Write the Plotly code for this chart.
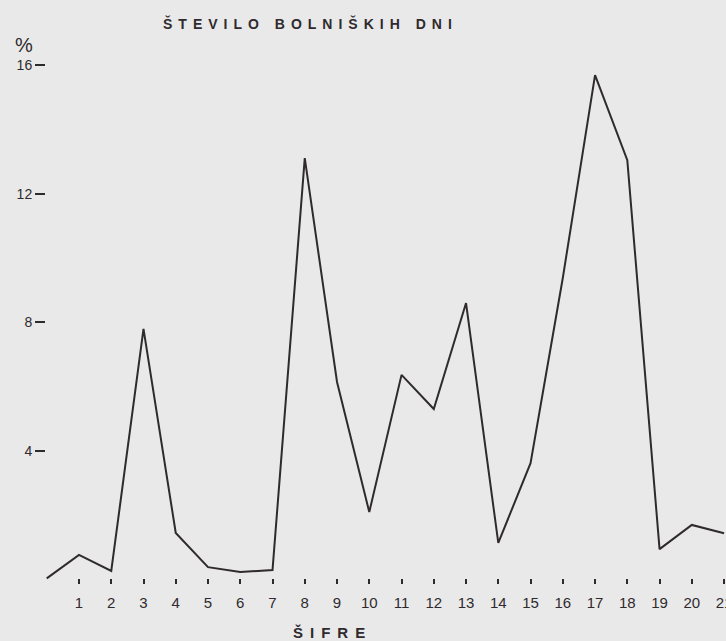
import plotly.graph_objects as go

# Data
positions = list(range(0, 22))
values = [0.05, 0.78, 0.28, 7.8, 1.46, 0.40, 0.25, 0.31, 13.1, 6.15, 2.11,
          6.37, 5.31, 8.6, 1.15, 3.63, 9.38, 15.68, 13.04, 0.96, 1.71, 1.45]
x_tick_vals = list(range(1, 22))
x_tick_text = [str(v) for v in x_tick_vals]
y_tick_vals = [4, 8, 12, 16]
y_tick_text = ["4", "8", "12", "16"]

title_text = "ŠTEVILO BOLNIŠKIH DNI"
x_title = "ŠIFRE"
y_unit = "%"

ink = "#2f2a2e"
bg = "#e9e9e9"

L, R, T, B = 46, 0, 40, 57
W, H = 726, 641

fig = go.Figure()
fig.add_trace(go.Scatter(
    x=positions, y=values, mode="lines",
    line=dict(color=ink, width=2),
    cliponaxis=False, hoverinfo="skip", showlegend=False,
))


def px_to_paper(px, py):
    return (px - L) / (W - L - R), (H - py - B) / (H - T - B)


anns = []
for text, px, py, size, spacing, bold in [
    (title_text, 310, 23, 14, 6, True),
    (x_title, 332, 632, 15, 7, True),
    (y_unit, 24, 45, 20, 0, False),
]:
    ax, ay = px_to_paper(px, py)
    t = text if not bold else "<b>" + text + "</b>"
    if spacing:
        t = '<span style="letter-spacing:%spx">%s</span>' % (spacing, t)
    anns.append(dict(text=t, x=ax, y=ay, xref="paper", yref="paper",
                     xanchor="center", yanchor="middle", showarrow=False,
                     font=dict(size=size, color=ink)))

fig.update_layout(
    width=W, height=H,
    margin=dict(l=L, r=R, t=T, b=B, autoexpand=False),
    paper_bgcolor=bg, plot_bgcolor=bg,
    font=dict(family="Liberation Sans, Arial, sans-serif", color=ink),
    xaxis=dict(
        range=[-0.023, 21.06], tickvals=x_tick_vals, ticktext=x_tick_text,
        ticks="inside", ticklen=5, tickwidth=2, tickcolor=ink,
        showgrid=False, zeroline=False, showline=False, automargin=False,
        tickfont=dict(size=15, color=ink), ticklabelstandoff=8,
        ticklabeloverflow="allow",
    ),
    yaxis=dict(
        range=[-0.124, 16.77], tickvals=y_tick_vals, ticktext=y_tick_text,
        ticks="outside", ticklen=10, tickwidth=2, tickcolor=ink,
        showgrid=False, zeroline=False, showline=False, automargin=False,
        tickfont=dict(size=14, color=ink),
    ),
    annotations=anns,
)

fig.write_html(
    "out.html",
    config={"displayModeBar": False},
    post_script="document.body.style.margin='0';"
                "document.body.style.background='%s';" % bg,
)
